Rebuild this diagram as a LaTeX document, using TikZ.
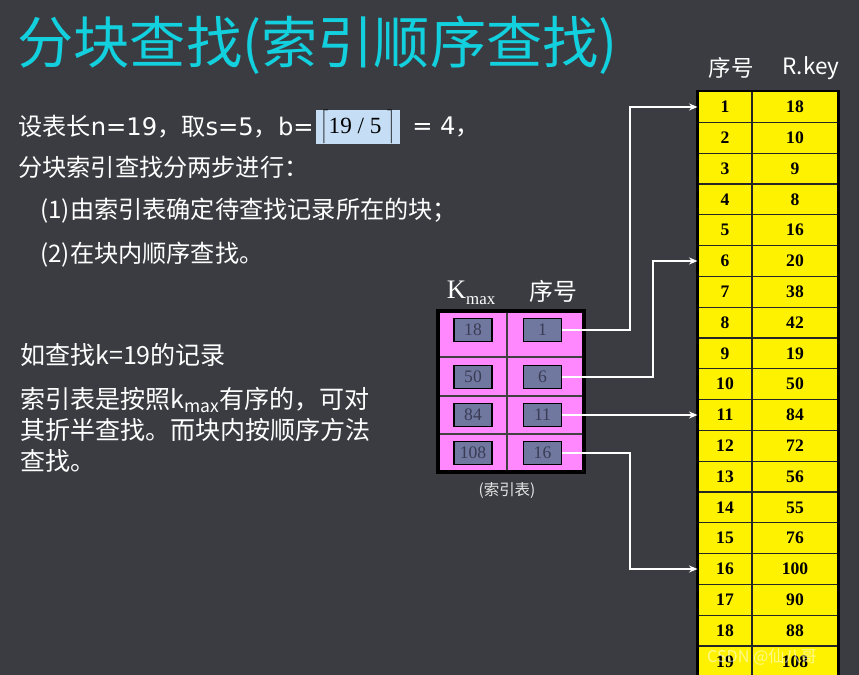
\documentclass[tikz,border=0pt]{standalone}
\usepackage{fontspec}
\setmainfont{Liberation Serif}
\newfontfamily\yahei{Noto Sans CJK SC}
\newfontfamily\widelatin{DejaVu Sans}
\usetikzlibrary{positioning,arrows.meta}
\definecolor{bgdark}{RGB}{59,60,65}
\definecolor{titlecyan}{RGB}{18,208,222}
\definecolor{idxpink}{RGB}{255,136,255}
\definecolor{idxslate}{RGB}{112,120,160}
\definecolor{idxtext}{RGB}{58,60,84}
\definecolor{ceilblue}{RGB}{197,222,245}
\begin{document}
\begin{tikzpicture}[x=0.025cm, y=-0.025cm,
        txt/.style={anchor=west, inner sep=0pt, text=white, font=\yahei\fontsize{17.2}{22}\selectfont},
        bigtxt/.style={txt, font=\yahei\fontsize{17.8}{22}\selectfont},
        hdr/.style={inner sep=0pt, text=white, font=\yahei\fontsize{16}{18}\selectfont},
        cell/.style={draw=black!85, line width=0.8pt, fill=yellow, minimum height=0.77cm, inner sep=0pt, font=\bfseries\fontsize{12.5}{14}\selectfont},
        slot/.style={draw=black, line width=0.8pt, fill=idxslate, minimum width=0.95cm, minimum height=0.57cm, inner sep=0pt, text=idxtext, font=\fontsize{12.5}{14}\selectfont},
        link/.style={draw=white, line width=1.4pt, -{Stealth[length=6pt, width=5pt]}}
    ]
        \fill[bgdark] (0,0) rectangle (859,675);
        \useasboundingbox (0,0) rectangle (859,675);

        \node[anchor=west, inner sep=0pt, text=titlecyan, font=\yahei\fontsize{40}{44}\selectfont] (title) at (17,45) {分块查找(索引顺序查找)};

        \node[txt] (line1) at (18,127) {设表长{\widelatin n=19}，取{\widelatin s=5}，{\widelatin b=}};
        \node[fill=ceilblue, minimum width=2.12cm, minimum height=0.87cm, inner sep=0pt, right=1pt of line1] (ceil)
            {\fontsize{16.5}{18}\selectfont$\bigg\lceil$19 / 5 $\bigg\rceil$};
        \node[txt, right=8pt of ceil] (line1b) {{\widelatin = 4}，};
        \node[txt] (line2) at (18,167) {分块索引查找分两步进行：};
        \node[txt] (step1) at (40,211) {(1)由索引表确定待查找记录所在的块；};
        \node[txt] (step2) at (40,255) {(2)在块内顺序查找。};
        \node[bigtxt] (query) at (20,355) {如查找k=19的记录};
        \node[bigtxt, anchor=north west, align=left] (note) at (20,387)
            {索引表是按照k\textsubscript{max}有序的，可对\\其折半查找。而块内按顺序方法\\查找。};

        \node[hdr] (hd-sn) at (731,68) {序号};
        \node[hdr] (hd-key) at (811,68) {R.key};
        \foreach \k [count=\i] in {18,10,9,8,16,20,38,42,19,50,84,72,56,55,76,100,90,88,108} {
            \node[cell, minimum width=1.35cm] (sn-\i) at (725,{107+(\i-1)*30.8}) {\i};
            \node[cell, minimum width=2.15cm] (key-\i) at (795,{107+(\i-1)*30.8}) {\k};
        }
        \draw[line width=2pt] (sn-1.north west) rectangle (key-19.south east);

        \node[text=white, font=\fontsize{19}{20}\selectfont] (kmax) at (471,293)
            {K\raisebox{-4pt}{\fontsize{12}{13}\selectfont max}};
        \node[text=white, font=\yahei\fontsize{17}{20}\selectfont] (hd-idx) at (553,291) {序号};
        \foreach \t/\b/\c/\k/\n [count=\j] in {311/357/330/18/1, 357/396/377/50/6, 396/434/415/84/11, 434/472/453/108/16} {
            \path[fill=idxpink, draw=black!75, line width=0.8pt] (438,\t) rectangle (507,\b) (507,\t) rectangle (584,\b);
            \node[slot] (ik\j) at (473,\c) {\k};
            \node[slot] (in\j) at (542.5,\c) {\n};
        }
        \draw[line width=2.4pt] (438,311) rectangle (584,472);
        \node[text=white!90!black, font=\yahei\fontsize{11}{13}\selectfont] (idx-cap) at (507,491) {(索引表)};

        \coordinate (bendA) at (630,0);
        \coordinate (bendB) at (653,0);
        \draw[link] (in1.east) -- (in1.east -| bendA) |- (sn-1.west);
        \draw[link] (in2.east) -- (in2.east -| bendB) |- (sn-6.west);
        \draw[link] (in3.east) -- (in3.east -| sn-11.west);
        \draw[link] (in4.east) -- (in4.east -| bendA) |- (sn-16.west);

        \node[text=white, opacity=0.55, font=\yahei\fontsize{11.5}{13}\selectfont] (mark) at (762,657) {CSDN @仙八哥};
    \end{tikzpicture}
\end{document}
